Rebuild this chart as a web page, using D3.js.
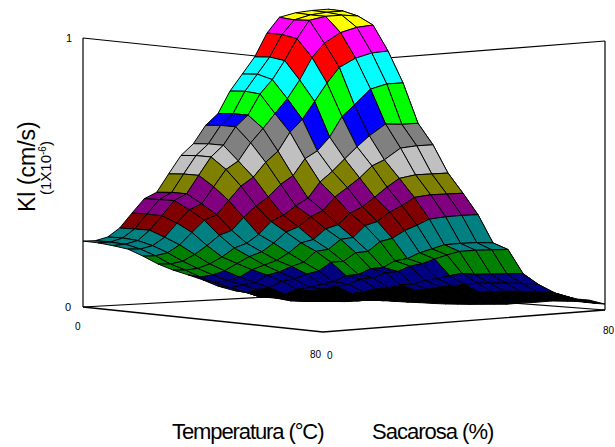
<!DOCTYPE html>
<html>
<head>
<meta charset="utf-8">
<script src="https://cdnjs.cloudflare.com/ajax/libs/d3/7.8.5/d3.min.js"></script>
<style>
  html, body { margin: 0; background: #fff; }
  svg { display: block; }
  text { font-family: "Liberation Sans", Arial, sans-serif; fill: #000; }
</style>
</head>
<body>
<div id="chart"></div>
<script>
// Grid of the surface: temperature (rows) and sucrose (columns)
const temperatura = [0, 5, 10, 15, 20, 25, 30, 35, 40, 45, 50, 55, 60, 65, 70, 75, 80];
const sacarosa = [0, 3.5, 7, 10.4, 13.9, 17.4, 20.9, 24.3, 27.8, 31.3, 34.8, 38.3, 41.7, 45.2, 48.7, 52.2, 55.7, 60.3, 64.9, 69.5, 72, 74.7, 77.3, 80];

// Kl, one row per temperature
const kl = [
  [.245,.243,.253,.283,.335,.385,.405,.47,.535,.575,.64,.68,.76,.82,.88,.965,1.02,1.032,1.036,1.036,1.0,.95,.88,.8],
  [.244,.243,.255,.285,.337,.387,.41,.475,.54,.58,.645,.685,.765,.825,.885,.965,1.016,1.03,1.035,1.035,.99,.9,.8,.7],
  [.238,.24,.25,.285,.335,.388,.41,.475,.54,.58,.645,.685,.76,.81,.877,.955,1.02,1.03,1.03,1.022,.93,.8,.68,.58],
  [.229,.226,.235,.263,.312,.358,.377,.437,.498,.526,.59,.64,.692,.744,.81,.89,.94,.975,.99,.994,.85,.72,.6,.5],
  [.206,.204,.212,.238,.281,.323,.34,.39,.44,.47,.522,.56,.627,.672,.735,.8,.855,.885,.9,.903,.73,.6,.5,.4],
  [.179,.176,.183,.205,.235,.27,.285,.33,.37,.4,.444,.473,.533,.559,.607,.68,.72,.775,.79,.79,.6,.5,.42,.34],
  [.158,.155,.158,.172,.195,.225,.24,.27,.315,.335,.367,.393,.45,.487,.53,.572,.61,.65,.645,.645,.52,.42,.34,.28],
  [.141,.13,.135,.148,.172,.195,.21,.24,.278,.295,.33,.35,.398,.43,.463,.505,.525,.565,.57,.57,.43,.35,.28,.22],
  [.122,.108,.115,.125,.15,.165,.18,.205,.24,.25,.287,.3,.34,.362,.395,.43,.46,.47,.47,.47,.36,.28,.21,.17],
  [.098,.09,.098,.105,.13,.14,.158,.172,.21,.215,.25,.255,.297,.31,.343,.365,.393,.4,.4,.4,.28,.2,.17,.12],
  [.081,.072,.08,.085,.107,.114,.13,.14,.17,.172,.202,.205,.24,.25,.277,.295,.316,.322,.325,.325,.2,.17,.12,.09],
  [.069,.052,.058,.06,.076,.082,.092,.1,.121,.124,.144,.147,.17,.177,.197,.21,.224,.227,.228,.225,.17,.12,.09,.07],
  [.058,.046,.051,.054,.068,.074,.082,.09,.108,.112,.129,.133,.152,.16,.176,.19,.202,.205,.205,.205,.1,.08,.06,.05],
  [.05,.032,.034,.036,.046,.049,.055,.06,.072,.074,.085,.087,.1,.106,.116,.124,.12,.12,.12,.12,.075,.06,.05,.04],
  [.041,.025,.025,.028,.034,.039,.041,.047,.054,.058,.064,.068,.076,.08,.085,.09,.09,.09,.088,.085,.055,.05,.04,.03],
  [.032,.02,.02,.02,.023,.026,.028,.032,.036,.039,.044,.046,.052,.056,.058,.06,.062,.062,.06,.06,.04,.035,.03,.03],
  [.026,.025,.024,.023,.022,.02,.018,.016,.015,.013,.012,.012,.012,.013,.014,.015,.02,.024,.03,.03,.03,.027,.024,.022]
];

// One colour per band of Kl, lowest first
const bandLimits = [.0714,.1428,.2142,.2856,.357,.4284,.4998,.5712,.6426,.69,.7854,.8568,.9282,.9996];
const bandColors = ["#000000","#000080","#008000","#008080","#800000","#800080","#808000","#c0c0c0","#808080","#0000ff","#00ff00","#00ffff","#ff0000","#ff00ff","#ffff00"];

const W = 615, H = 447;
const svg = d3.select("#chart").append("svg").attr("width", W).attr("height", H);

// Oblique projection of the box: each axis moves the point in x and in y
const tempX = d3.scaleLinear([0, 80], [0, 240]);
const tempY = d3.scaleLinear([0, 80], [0, 25]);
const sacX = d3.scaleLinear([0, 80], [0, 282]);
const sacY = d3.scaleLinear([0, 80], [0, -22]);
const klY = d3.scaleLinear([0, 1], [0, -269]);
const color = d3.scaleThreshold(bandLimits, bandColors);
const originX = 83, originY = 307;

function project(t, s, z) {
  return [originX + tempX(t) + sacX(s), originY + tempY(t) + sacY(s) + klY(z)];
}

// The surface sits a bit above the floor towards the front corner
const frontLift = d3.scalePow().exponent(2).domain([0, 80]).range([0, 27]);
function surfacePoint(i, j) {
  const t = temperatura[i], s = sacarosa[j];
  const p = project(t, s, kl[i][j]);
  return [p[0], p[1] - frontLift(t) * (1 - s / 80)];
}

const line = d3.line();

// Box lines behind the surface
const frame = svg.append("g").attr("fill", "none").attr("stroke", "#000");
const boxLines = [
  [[0, 0, 0], [0, 0, 1]],
  [[80, 80, 0], [80, 80, 1]],
  [[0, 0, 1], [80, 0, 1]],
  [[80, 80, 1], [80, 0, 1]],
  [[0, 0, 0], [0, 80, -0.025]],
  [[80, 80, 0], [0, 80, -0.025]]
];
frame.selectAll("path.box").data(boxLines).join("path")
  .attr("class", "box")
  .attr("stroke-width", 1.2)
  .attr("d", d => line(d.map(p => project(p[0], p[1], p[2]))));

// Facets from the back corner to the front corner
const cells = [];
for (let i = 0; i < temperatura.length - 1; i++) {
  for (let j = sacarosa.length - 2; j >= 0; j--) {
    cells.push({i, j, z: d3.mean([kl[i][j], kl[i + 1][j], kl[i + 1][j + 1], kl[i][j + 1]])});
  }
}
svg.append("g").selectAll("path").data(cells).join("path")
  .attr("d", c => line([
    surfacePoint(c.i, c.j), surfacePoint(c.i + 1, c.j),
    surfacePoint(c.i + 1, c.j + 1), surfacePoint(c.i, c.j + 1)
  ]) + "Z")
  .attr("fill", c => color(c.z))
  .attr("stroke", "#000")
  .attr("stroke-width", 1)
  .attr("stroke-linejoin", "round");

// Front floor edges go over everything
svg.append("path")
  .attr("fill", "none").attr("stroke", "#000").attr("stroke-width", 1.4)
  .attr("d", line([project(0, 0, 0), project(80, 0, 0), project(80, 80, 0)]));

// Tick labels
svg.append("g").style("font-family", "'Liberation Serif', serif").style("font-size", "11px")
  .selectAll("text").data([["1", 66, 42], ["0", 65, 311]]).join("text")
  .attr("x", d => d[1]).attr("y", d => d[2]).text(d => d[0]);
svg.append("g").style("font-size", "10px")
  .selectAll("text").data([["0", 75, 330], ["80", 310, 358], ["0", 327, 359], ["80", 603, 334]]).join("text")
  .attr("x", d => d[1]).attr("y", d => d[2]).text(d => d[0]);

// Axis titles
svg.append("text").attr("transform", "translate(35,212) rotate(-90)").style("font-size", "23px").text("Kl (cm/s)");
const sub = svg.append("text").attr("transform", "translate(51,195) rotate(-90)").style("font-size", "15px");
sub.append("tspan").text("(1X10");
sub.append("tspan").attr("dy", -5).style("font-size", "10px").text("-6");
sub.append("tspan").attr("dy", 5).text(")");
svg.append("text").attr("x", 172).attr("y", 439).style("font-size", "22px").style("letter-spacing", "-1.1px").text("Temperatura (°C)");
svg.append("text").attr("x", 372).attr("y", 439).style("font-size", "22px").style("letter-spacing", "-1px").text("Sacarosa (%)");
</script>
</body>
</html>
